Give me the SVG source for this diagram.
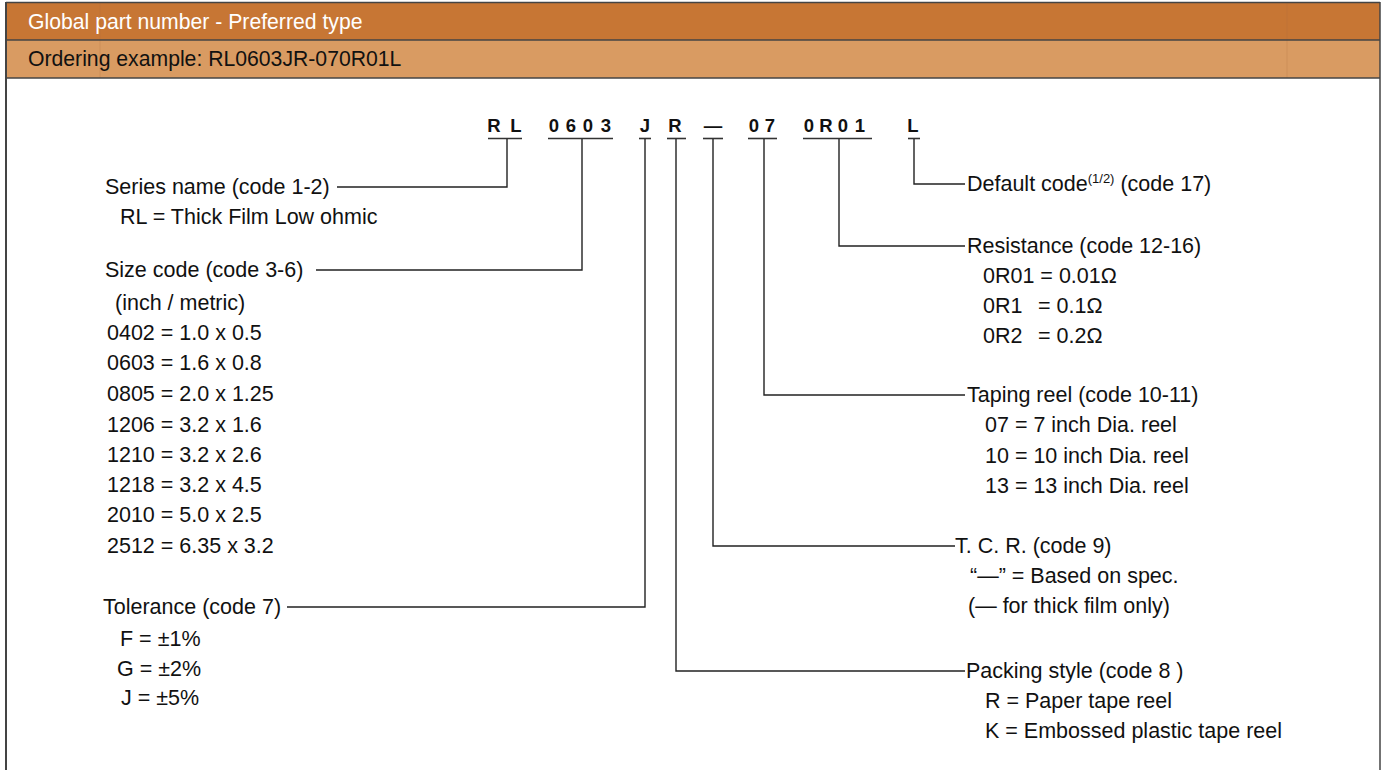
<svg xmlns="http://www.w3.org/2000/svg" width="1381" height="770" viewBox="0 0 1381 770">
<style>
.t{font-family:"Liberation Sans",Arial,sans-serif;font-size:21.5px;fill:#111}
.h1{font-family:"Liberation Sans",Arial,sans-serif;font-size:21.2px;fill:#fff}
.h2{font-family:"Liberation Sans",Arial,sans-serif;font-size:21.2px;fill:#111}
.c{font-family:"Liberation Sans",Arial,sans-serif;font-size:18.5px;font-weight:bold;fill:#111;text-anchor:middle}
.ul{stroke:#333;stroke-width:1.6}
.ln{fill:none;stroke:#222;stroke-width:1.4}
.sup{font-size:13px}
</style>
<rect width="1381" height="770" fill="#fff"/>
<g id="header">
<rect x="6" y="2" width="1374" height="38" fill="#C77634"/>
<rect x="6" y="40" width="1374" height="38" fill="#D99B62"/>
<line x1="100" y1="2" x2="100" y2="78" stroke="#b07040" stroke-width="0.6" opacity="0.4"/>
<line x1="1287" y1="2" x2="1287" y2="78" stroke="#b07040" stroke-width="0.6" opacity="0.4"/>
<line x1="6" y1="2.5" x2="1380" y2="2.5" stroke="#444" stroke-width="1.5"/>
<line x1="6" y1="40" x2="1380" y2="40" stroke="#444" stroke-width="1.5"/>
<line x1="6" y1="78" x2="1380" y2="78" stroke="#444" stroke-width="1.5"/>
<line x1="6" y1="2" x2="6" y2="770" stroke="#444" stroke-width="2"/>
<line x1="1380" y1="2" x2="1380" y2="770" stroke="#444" stroke-width="1.5"/>
<text class="h1" x="28" y="29">Global part number - Preferred type</text>
<text class="h2" x="28" y="66">Ordering example: RL0603JR-070R01L</text>
</g>
<g id="code">
<text class="c" y="132"><tspan x="494">R</tspan><tspan x="516">L</tspan><tspan x="554">0</tspan><tspan x="571">6</tspan><tspan x="588">0</tspan><tspan x="606">3</tspan><tspan x="645">J</tspan><tspan x="675">R</tspan><tspan x="713">—</tspan><tspan x="754">0</tspan><tspan x="770">7</tspan><tspan x="809">0</tspan><tspan x="826">R</tspan><tspan x="843">0</tspan><tspan x="860">1</tspan><tspan x="913">L</tspan></text>
<line class="ul" x1="488" y1="138.5" x2="522" y2="138.5"/>
<line class="ul" x1="548" y1="138.5" x2="613" y2="138.5"/>
<line class="ul" x1="639" y1="138.5" x2="651" y2="138.5"/>
<line class="ul" x1="667" y1="138.5" x2="686" y2="138.5"/>
<line class="ul" x1="703" y1="138.5" x2="723" y2="138.5"/>
<line class="ul" x1="748" y1="138.5" x2="777" y2="138.5"/>
<line class="ul" x1="803" y1="138.5" x2="872" y2="138.5"/>
<line class="ul" x1="908" y1="138.5" x2="920" y2="138.5"/>
</g>
<g id="connectors">
<path class="ln" d="M507,139 V187 H337"/>
<path class="ln" d="M582,139 V270 H316"/>
<path class="ln" d="M645,139 V607 H287"/>
<path class="ln" d="M676,139 V671 H965"/>
<path class="ln" d="M713,139 V546 H955"/>
<path class="ln" d="M764,139 V395 H965"/>
<path class="ln" d="M839,139 V246 H965"/>
<path class="ln" d="M914,139 V184 H965"/>
</g>
<g id="series">
<text class="t" x="105" y="194">Series name (code 1-2)</text>
<text class="t" x="120" y="224">RL = Thick Film Low ohmic</text>
</g>
<g id="size">
<text class="t" x="105" y="277">Size code (code 3-6)</text>
<text class="t" x="115" y="310">(inch / metric)</text>
<text class="t" x="107" y="340">0402 = 1.0 x 0.5</text>
<text class="t" x="107" y="370">0603 = 1.6 x 0.8</text>
<text class="t" x="107" y="401">0805 = 2.0 x 1.25</text>
<text class="t" x="107" y="432">1206 = 3.2 x 1.6</text>
<text class="t" x="107" y="462">1210 = 3.2 x 2.6</text>
<text class="t" x="107" y="492">1218 = 3.2 x 4.5</text>
<text class="t" x="107" y="522">2010 = 5.0 x 2.5</text>
<text class="t" x="107" y="553">2512 = 6.35 x 3.2</text>
</g>
<g id="tolerance">
<text class="t" x="103" y="614">Tolerance (code 7)</text>
<text class="t" x="120" y="646">F = ±1%</text>
<text class="t" x="117" y="676">G = ±2%</text>
<text class="t" x="121" y="705">J = ±5%</text>
</g>
<g id="default">
<text class="t" x="967" y="191">Default code<tspan class="sup" dy="-8">(1/2)</tspan><tspan dy="8"> (code 17)</tspan></text>
</g>
<g id="resistance">
<text class="t" x="967" y="253">Resistance (code 12-16)</text>
<text class="t" x="983" y="283">0R01 = 0.01Ω</text>
<text class="t" x="983" y="313">0R1<tspan x="1038">= 0.1Ω</tspan></text>
<text class="t" x="983" y="343">0R2<tspan x="1038">= 0.2Ω</tspan></text>
</g>
<g id="taping">
<text class="t" x="967" y="402">Taping reel (code 10-11)</text>
<text class="t" x="985" y="432">07 = 7 inch Dia. reel</text>
<text class="t" x="985" y="463">10 = 10 inch Dia. reel</text>
<text class="t" x="985" y="493">13 = 13 inch Dia. reel</text>
</g>
<g id="tcr">
<text class="t" x="955" y="553">T. C. R. (code 9)</text>
<text class="t" x="970" y="583">“—” = Based on spec.</text>
<text class="t" x="968" y="613">(— for thick film only)</text>
</g>
<g id="packing">
<text class="t" x="966" y="678">Packing style (code 8 )</text>
<text class="t" x="985" y="708">R = Paper tape reel</text>
<text class="t" x="985" y="738">K = Embossed plastic tape reel</text>
</g>
</svg>
